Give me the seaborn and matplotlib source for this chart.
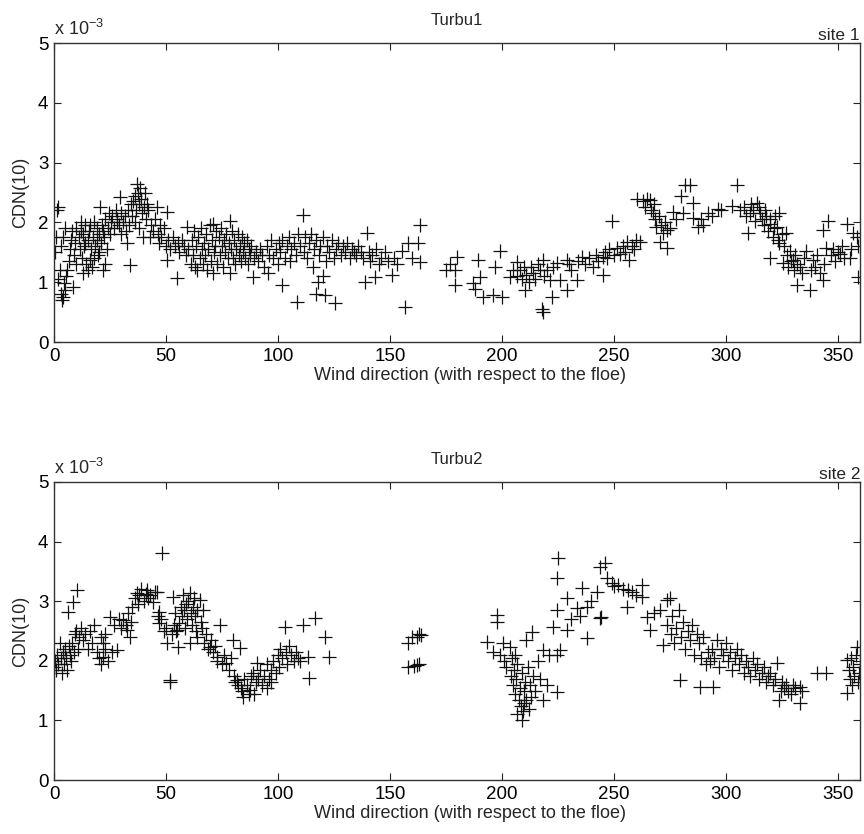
import matplotlib
matplotlib.use("Agg")
import matplotlib.pyplot as plt
import seaborn as sns
import pandas as pd

# ---------------- data (CDN in units of 1e-3) ----------------
site1_dir = [
    0.5, 1, 1.5, 2, 2.5, 2, 3, 3.5, 4, 4.5, 5, 3, 4, 5, 5.5, 6, 6.5, 7, 7.5, 8, 8.5, 9, 9.5, 10, 10,
    11, 11.5, 12, 12.5, 13, 13.5, 14, 14.5, 15, 15.5, 16, 16.5, 17, 17.5, 18, 18.5, 19, 19.5, 20, 20.5,
    21, 21.5, 22, 22.5, 23, 23.5, 24, 24.5, 25, 25.5, 13, 15, 18, 20, 23, 12, 16, 19, 22, 14,
    26, 27, 27.5, 28, 29, 29.5, 30, 31, 31.5, 32, 32.6, 33, 33.5, 34, 34.5, 35, 30, 28,
    35.5, 36, 36.5, 37, 37.5, 38, 38.4, 39, 39.5, 39.7, 40, 40.5, 41, 41.5, 36, 38, 42,
    43, 43.5, 44, 45, 46, 46.5, 47, 47.5, 48, 49, 50, 50.5, 50.5, 51, 52, 53, 54, 55, 55.5, 56, 57, 58,
    59, 59.4, 60,
    61, 61.5, 62, 62.5, 63, 63.5, 64, 64.5, 65, 65.5, 66, 66.5, 67, 67.5, 68, 68.5, 69, 69.5, 70, 70.5,
    71, 71, 71.5, 72, 72.5, 73, 73.5, 74, 74.5, 75, 75.5, 76, 76.5, 77, 77.5, 78, 78.6, 78.6, 79, 79.5,
    80, 80.5, 81, 81.5, 82, 82.5, 83, 83.5, 84, 84.5, 85, 85.5, 86, 86.5, 87, 87.5, 88, 89, 89.5, 90,
    91, 92, 93, 94, 95, 95.6, 96, 97, 98, 99, 100, 100.5, 101, 101.8, 102, 103, 104, 105, 105.5, 106,
    107, 108, 108.5, 109, 110, 111, 111.5, 112, 113, 114, 115, 115.5, 116, 117, 118, 118.5, 119, 120,
    121, 121.5, 122, 123, 124, 125, 125.5, 120, 117,
    126, 127, 128, 129, 130, 131, 132, 133, 134, 135, 136, 137, 138, 139, 140, 140.5, 141, 142, 143.4,
    144, 145, 146, 148, 149, 151, 152, 153, 155.5, 156.8, 158, 160, 162.6, 163.5, 163.5,
    175, 177, 179, 180, 179, 187.1, 189.4, 190.3, 191.6, 188, 196, 197, 199.2, 200,
    203.7, 205, 206.8, 208, 209, 210.4, 211, 212, 213, 214, 215, 216, 217, 218, 218.2, 218.4, 219, 220,
    221.5, 222.4, 223, 224.6, 226, 229, 229, 207, 210,
    230, 231, 233.6, 234, 236, 237, 239, 240.7, 242, 243, 245, 245, 246, 247, 248, 249, 250, 251.4,
    252.8, 254, 255, 256, 257, 258, 259, 261.7, 260,
    260.4, 263, 264, 265, 266, 266.5, 267.5, 268, 268.5, 269, 270, 270.6, 271, 272, 273, 273.8, 273.8, 275,
    276.5, 278, 280, 281, 282, 284, 285.4, 285.4, 287.6, 289, 290, 292, 294, 296.6, 298,
    302.8, 305, 306.4, 308, 309, 310, 310.8, 311.5, 312, 313, 314, 315, 315.3, 316, 317, 317.5, 318, 319,
    319.8, 320, 321, 321.5, 322, 323, 323.5, 324, 325, 325.6, 326, 327, 327.5, 328, 328.7, 329, 330,
    330.5, 331, 331.8, 332, 333, 334, 335, 319.8, 324,
    336, 337.6, 338, 339, 340, 341, 342, 343.5, 343.5, 344, 345, 345.7, 347, 348, 349, 350, 351, 352,
    353, 354, 355.5, 357, 358.6, 359, 359, 356,
]
site1_cdn = [
    1.5, 1.75, 2.2, 2.25, 1.2, 1.05, 0.8, 0.7, 0.75, 0.98, 0.87, 1.6, 1.75, 1.9, 1.1, 1.2, 1.35, 1.55, 1.7, 1.85, 0.92, 1.45, 1.65, 1.9, 1.3,
    1.75, 1.55, 2.0, 1.4, 1.8, 1.6, 1.95, 1.3, 1.7, 1.85, 1.37, 1.55, 1.25, 1.75, 2.0, 1.6, 1.9, 1.45, 1.8, 2.25,
    1.65, 1.95, 1.2, 1.75, 2.05, 1.55, 1.9, 2.15, 1.8, 2.0, 1.15, 1.2, 1.4, 1.5, 1.3, 1.85, 1.95, 1.7, 1.85, 1.65,
    2.1, 1.9, 2.2, 2.05, 1.95, 2.42, 2.15, 2.0, 2.1, 1.85, 1.65, 2.2, 1.95, 1.28, 2.3, 2.1, 1.8, 2.0,
    2.35, 2.45, 2.2, 2.65, 2.5, 2.3, 2.58, 2.4, 2.15, 1.75, 2.25, 2.5, 2.05, 2.3, 2.0, 1.9, 2.2,
    1.75, 1.95, 1.85, 2.05, 2.25, 1.8, 1.65, 1.95, 1.75, 1.9, 1.6, 2.17, 1.37, 1.7, 1.55, 1.75, 1.6, 1.07, 1.65, 1.5, 1.7, 1.6,
    1.45, 1.92, 1.55,
    1.3, 1.7, 1.45, 1.85, 1.25, 1.6, 1.2, 1.75, 1.4, 1.9, 1.55, 1.3, 1.65, 1.45, 1.8, 1.2, 1.55, 1.95, 1.35, 1.7,
    1.15, 1.98, 1.5, 1.6, 1.85, 1.3, 1.75, 1.45, 1.9, 1.6, 1.25, 1.7, 1.5, 1.8, 1.4, 1.65, 2.03, 1.15, 1.55, 1.85,
    1.4, 1.7, 1.3, 1.55, 1.8, 1.45, 1.6, 1.35, 1.75, 1.5, 1.65, 1.4, 1.7, 1.3, 1.55, 1.45, 1.6, 1.08, 1.4, 1.5,
    1.35, 1.55, 1.45, 1.25, 1.6, 1.15, 1.45, 1.7, 1.4, 1.55, 1.3, 1.65, 1.5, 0.95, 1.7, 1.4, 1.6, 1.75, 1.35, 1.55,
    1.65, 1.45, 0.67, 1.8, 1.6, 2.12, 1.5, 1.75, 1.4, 1.65, 1.8, 1.25, 1.55, 1.7, 1.0, 1.45, 1.6, 1.75,
    0.78, 1.35, 1.6, 1.5, 1.7, 1.4, 0.65, 1.1, 0.8,
    1.55, 1.65, 1.45, 1.6, 1.5, 1.65, 1.4, 1.55, 1.5, 1.45, 1.6, 1.5, 1.4, 1.0, 1.82, 1.5, 1.35, 1.45, 1.08,
    1.55, 1.3, 1.4, 1.5, 1.35, 1.12, 1.4, 1.3, 1.53, 0.58, 1.65, 1.4, 1.65, 1.95, 1.33,
    1.2, 1.3, 1.2, 1.42, 0.95, 0.98, 1.37, 1.08, 0.75, 0.88, 0.78, 1.25, 1.53, 0.75,
    1.08, 1.2, 1.33, 1.2, 1.05, 0.87, 1.12, 1.0, 1.25, 1.15, 1.05, 1.3, 1.2, 0.55, 0.5, 1.37, 1.1, 1.2,
    1.03, 0.75, 1.25, 1.32, 1.03, 0.87, 1.37, 1.1, 1.25,
    1.3, 1.2, 1.03, 1.35, 1.42, 1.3, 1.4, 1.25, 1.45, 1.35, 1.12, 1.42, 1.5, 1.4, 1.55, 2.03, 1.45, 1.58,
    1.48, 1.6, 1.5, 1.67, 1.37, 1.6, 1.55, 1.67, 1.7,
    2.4, 2.35, 2.25, 2.4, 2.37, 2.2, 2.15, 2.3, 2.05, 1.92, 2.1, 1.67, 1.95, 1.82, 2.0, 1.87, 1.58, 1.9,
    2.17, 2.05, 2.45, 2.15, 2.62, 2.62, 2.33, 2.07, 1.92, 2.05, 1.95, 2.15, 2.1, 2.23, 2.2,
    2.28, 2.62, 2.2, 2.25, 2.1, 1.82, 2.15, 2.3, 2.2, 2.03, 2.32, 2.25, 2.15, 2.05, 1.95, 2.2, 2.1, 1.85,
    1.98, 2.05, 1.75, 1.9, 2.1, 1.92, 1.7, 2.15, 1.8, 1.32, 1.6, 1.82, 1.45, 1.25, 1.53, 1.35, 1.37,
    1.2, 1.45, 0.95, 1.3, 1.25, 1.15, 1.4, 1.4, 1.65,
    1.53, 0.87, 1.2, 1.37, 1.25, 1.45, 1.15, 1.03, 1.87, 1.3, 1.58, 2.03, 1.45, 1.55, 1.35, 1.5, 1.48, 1.6,
    1.4, 1.98, 1.4, 1.82, 1.75, 1.08, 1.6, 1.55,
]

site2_dir = [
    0, 0.5, 1, 1.5, 2, 2.5, 3, 3.5, 4, 4.5, 5, 5.5, 6, 6.3, 6.5, 7, 7.5, 8, 8.5, 9, 9.5, 10, 10.2, 10.5,
    11, 12, 13, 14, 15, 16, 17, 18, 19, 20, 21, 22, 22, 23, 24, 25, 26, 27, 28, 29, 30, 31, 32, 32.6,
    33, 34, 34.5, 35, 21, 23,
    36, 37, 37.5, 38, 39, 40, 41, 41.5, 42, 43, 44, 45, 46, 46.5, 47, 47, 48, 48.2, 49, 50, 50.5, 51.8, 52,
    52.5, 53, 53.5, 54, 54.5, 55, 55.5, 56, 56.5, 57, 57.6, 58, 58.5, 59, 59.5, 60, 60.7, 60.7, 61, 61.5,
    62, 62.5, 63, 63.5, 64, 64, 65, 65.5, 66, 66.5, 67, 68, 69, 69.7, 70,
    71, 72, 72.8, 73, 74, 75, 76, 77, 78, 79, 80, 80.5, 81, 81.7, 82, 83, 83.5, 84, 84.4, 85, 86, 87,
    87.5, 88, 89, 89.5, 90, 90.6,
    91, 92, 93, 94, 95, 96, 97, 98, 99, 100, 100.5, 101, 102, 103, 103.5, 104, 105, 106, 107, 108, 109,
    110, 111, 113.4, 114, 116.5, 121, 123, 95, 97,
    158, 160, 162, 163, 164, 158, 161, 162, 163,
    193.4, 196, 197.8, 198, 199, 200.5, 201, 202, 203.7, 204, 204.5, 205, 205.5, 206, 206.5, 207, 207.5,
    208, 208.5, 209, 209, 209.5, 210, 210.5, 211, 211, 211.5, 212, 212.5, 213, 213.5, 214, 215, 216, 217,
    218.4, 218.4, 220, 221, 223, 224.6, 224.6, 224.6, 225, 224.6, 226, 229, 229, 207, 210, 206,
    231, 233.6, 235, 236, 238, 238, 240, 242.5, 243.8, 244.2, 243.8, 246, 247, 249, 250, 252, 254, 256.4,
    256, 258, 260, 262.6, 262.6, 265, 266, 268, 270.6, 272, 273.8, 275,
    274, 275.5, 276, 277, 278, 279, 279.6, 280, 281, 282, 283, 284, 285, 286, 287, 288, 288.5, 289, 290,
    291, 292, 293, 294, 294.3, 295, 296, 297, 298, 299, 300, 301, 302, 303, 304, 305, 306, 307, 308, 309,
    310, 311, 312, 313, 314, 315, 316, 317, 318, 319, 320, 321, 322, 323, 324, 324.5, 325, 326, 327, 328,
    329, 330, 331, 333, 333, 334,
    340.8, 345, 354, 354, 355, 355.5, 356, 356.5, 357, 357.5, 358, 358.6, 359, 359.5, 360,
]
site2_cdn = [
    1.9, 2.0, 1.85, 2.1, 1.95, 2.3, 2.05, 1.8, 2.15, 1.95, 2.2, 2.05, 1.85, 2.82, 2.25, 2.1, 2.0, 2.3, 2.99, 2.15, 2.45, 2.5, 3.19, 2.2,
    2.4, 2.55, 2.35, 2.45, 2.2, 2.5, 2.3, 2.6, 2.15, 2.05, 2.4, 2.3, 2.07, 2.2, 2.0, 2.73, 2.15, 2.6, 2.18, 2.7, 2.55, 2.68, 2.6, 2.52,
    2.8, 2.4, 2.65, 2.9, 1.95, 2.45,
    3.05, 3.14, 2.95, 3.1, 3.2, 3.0, 3.12, 3.19, 3.05, 3.1, 2.99, 3.15, 3.16, 2.75, 2.82, 2.63, 2.7, 3.81, 2.5, 2.55, 2.3, 1.68, 1.65,
    2.45, 3.07, 2.6, 2.8, 2.5, 2.52, 2.23, 2.63, 2.9, 2.75, 3.1, 2.85, 2.55, 2.95, 2.7, 3.0, 3.14, 2.3, 2.8, 2.6,
    2.9, 3.05, 2.75, 2.5, 2.4, 2.85, 3.02, 2.65, 2.55, 2.85, 2.3, 2.45, 2.2, 2.23, 2.35,
    2.15, 2.25, 2.07, 2.0, 2.6, 1.95, 2.1, 1.96, 1.85, 2.05, 2.35, 1.75, 1.65, 1.68, 1.6, 2.21, 1.55, 1.5, 1.39, 1.7, 1.6, 1.45,
    1.51, 1.75, 1.8, 1.45, 1.65, 1.96,
    1.7, 1.85, 1.6, 1.75, 1.95, 1.7, 1.85, 2.0, 1.8, 2.1, 1.9, 2.2, 2.05, 2.57, 2.15, 1.95, 2.25, 2.1, 2.0, 2.15, 2.05,
    2.0, 2.6, 2.07, 1.71, 2.72, 2.4, 2.07, 1.55, 1.65,
    2.3, 2.4, 2.4, 2.45, 2.43, 1.9, 1.92, 1.93, 1.95,
    2.32, 2.15, 2.77, 2.65, 2.1, 2.3, 2.0, 1.9, 2.23, 1.75, 2.05, 1.6, 1.85, 1.45, 1.7, 1.95, 1.35,
    1.55, 1.25, 1.0, 1.8, 1.15, 1.5, 1.65, 1.35, 2.35, 1.9, 1.2, 1.6, 1.4, 2.48, 1.75, 1.5, 2.0, 1.7,
    2.18, 1.34, 1.59, 2.1, 2.57, 2.1, 1.48, 3.39, 3.72, 2.85, 2.18, 2.52, 3.05, 1.1, 1.3, 2.1,
    2.7, 2.89, 2.75, 3.22, 2.9, 2.38, 3.0, 3.15, 2.72, 2.74, 3.57, 3.64, 3.39, 3.3, 3.25, 3.27, 3.2, 3.19,
    2.9, 3.15, 3.1, 3.27, 3.07, 2.73, 2.52, 2.8, 2.85, 2.26, 3.02, 3.05,
    2.6, 2.45, 2.75, 2.3, 2.55, 2.85, 1.68, 2.4, 2.65, 2.2, 2.5, 2.35, 2.6, 2.1, 2.45, 2.3, 1.56, 2.05, 2.4,
    1.95, 2.15, 2.0, 2.2, 1.56, 2.05, 2.35, 1.9, 2.2, 2.1, 2.3, 2.0, 2.15, 1.85, 2.05, 2.2, 1.95, 2.1, 1.8, 2.0,
    1.9, 1.75, 2.05, 1.85, 1.95, 1.7, 1.8, 1.9, 1.65, 1.75, 1.8, 1.6, 1.7, 1.96, 1.34, 1.5, 1.65, 1.55, 1.6, 1.5,
    1.45, 1.6, 1.55, 1.29, 1.56, 1.5,
    1.8, 1.8, 2.01, 1.46, 1.85, 1.7, 2.05, 1.6, 1.9, 1.75, 2.1, 2.23, 1.65, 1.8, 1.95,
]

panels = [
    ("Turbu1", "site 1", site1_dir, site1_cdn),
    ("Turbu2", "site 2", site2_dir, site2_cdn),
]
x_ticks = [0, 50, 100, 150, 200, 250, 300, 350]
y_ticks = [0, 1, 2, 3, 4, 5]
xlabel = "Wind direction (with respect to the floe)"
ylabel = "CDN(10)"

# ---------------- style ----------------
sns.set_style("ticks")
plt.rcParams["font.family"] = ["Liberation Sans", "DejaVu Sans"]
plt.rcParams.update({
    "xtick.direction": "in", "ytick.direction": "in",
    "xtick.top": True, "ytick.right": True,
    "xtick.major.size": 5, "ytick.major.size": 5,
    "axes.linewidth": 1.0, "axes.edgecolor": "#333333",
    "mathtext.default": "regular",
})

fig = plt.figure(figsize=(8.64, 8.34), dpi=100)
positions = [[0.0625, 0.5899, 0.9329, 0.3585], [0.0625, 0.0647, 0.9329, 0.3574]]

for (title, site, xs, ys), pos in zip(panels, positions):
    ax = fig.add_axes(pos)
    df = pd.DataFrame({"dir": xs, "cdn": ys})
    sns.scatterplot(data=df, x="dir", y="cdn", marker="+", color="#111111",
                    s=95, linewidth=0.9, ax=ax, legend=False)
    ax.set_xlim(0, 360)
    ax.set_ylim(0, 5)
    ax.set_xticks(x_ticks)
    ax.set_yticks(y_ticks)
    ax.tick_params(labelsize=13.5, colors="#222222", labelcolor="black", pad=4)
    ax.set_xlabel(xlabel, fontsize=13, labelpad=2)
    ax.xaxis.label.set_x(0.5155)
    ax.set_ylabel(ylabel, fontsize=13, labelpad=6)
    ax.set_title(title, fontsize=12, pad=13)
    ax.text(0.0, 1.012, "x 10$^{-3}$", transform=ax.transAxes, fontsize=13,
            ha="left", va="bottom")
    ax.text(1.0, 1.0, site, transform=ax.transAxes, fontsize=12.5,
            ha="right", va="bottom")
    for sp in ax.spines.values():
        sp.set_visible(True)

fig.savefig("out.png", dpi=100)
